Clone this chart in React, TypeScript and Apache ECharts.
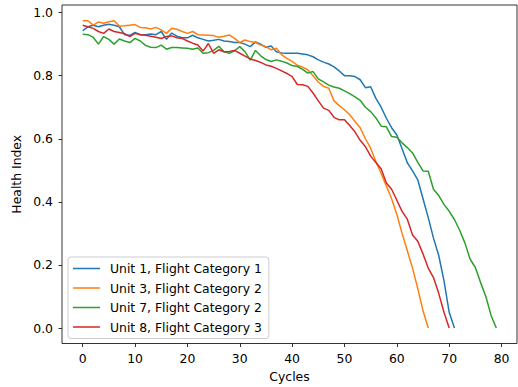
import React, { useEffect, useRef } from "react";
import * as echarts from "echarts";

const seriesNames = [
  "Unit 1, Flight Category 1",
  "Unit 3, Flight Category 2",
  "Unit 7, Flight Category 2",
  "Unit 8, Flight Category 3",
];

const unit1 = [
  0.943, 0.955, 0.96, 0.955, 0.96, 0.963, 0.96, 0.955, 0.93, 0.928,
  0.937, 0.93, 0.93, 0.932, 0.93, 0.94, 0.915, 0.935, 0.925, 0.92,
  0.92, 0.928, 0.92, 0.915, 0.91, 0.912, 0.915, 0.91, 0.908, 0.905,
  0.905, 0.9, 0.892, 0.907, 0.9, 0.89, 0.894, 0.876, 0.872, 0.871,
  0.871, 0.871, 0.869, 0.866, 0.86, 0.85, 0.843, 0.837, 0.828, 0.815,
  0.8, 0.8, 0.797, 0.787, 0.762, 0.765, 0.728, 0.7, 0.665, 0.635,
  0.612, 0.568, 0.524, 0.498, 0.47, 0.41, 0.35, 0.285, 0.23, 0.15,
  0.05, 0.0,
];

const unit3 = [
  0.974, 0.974, 0.96, 0.97, 0.966, 0.971, 0.974, 0.957, 0.958, 0.96,
  0.962, 0.953, 0.952, 0.948, 0.953, 0.945, 0.934, 0.95, 0.947, 0.94,
  0.934, 0.94, 0.93, 0.929, 0.928, 0.927, 0.922, 0.925, 0.929, 0.918,
  0.905, 0.913, 0.908, 0.905, 0.897, 0.892, 0.882, 0.887, 0.866, 0.855,
  0.845, 0.833, 0.827, 0.818, 0.8, 0.78, 0.766, 0.76, 0.72, 0.705,
  0.692, 0.676, 0.655, 0.635, 0.6, 0.57, 0.528, 0.49, 0.45, 0.41,
  0.36, 0.3, 0.245, 0.19, 0.125, 0.055, 0.0,
];

const unit7 = [
  0.931, 0.93, 0.922, 0.9, 0.924, 0.915, 0.9, 0.916, 0.91, 0.905,
  0.918, 0.91, 0.896, 0.89, 0.889, 0.897, 0.884, 0.889, 0.889, 0.888,
  0.887, 0.884, 0.888, 0.871, 0.873, 0.88, 0.893, 0.876, 0.871, 0.879,
  0.892, 0.876, 0.849, 0.88, 0.863, 0.851, 0.845, 0.85, 0.846, 0.84,
  0.832, 0.829, 0.82, 0.808, 0.813, 0.79, 0.78, 0.77, 0.764, 0.76,
  0.752, 0.743, 0.733, 0.722, 0.7, 0.686, 0.666, 0.64, 0.638, 0.607,
  0.605, 0.587, 0.572, 0.555, 0.525, 0.498, 0.497, 0.44, 0.42, 0.392,
  0.37, 0.344, 0.31, 0.27, 0.218, 0.192, 0.144, 0.1, 0.04, 0.0,
];

const unit8 = [
  0.96, 0.955, 0.95, 0.94, 0.934, 0.948, 0.94, 0.937, 0.933, 0.924,
  0.934, 0.93, 0.928, 0.925, 0.922, 0.918, 0.924, 0.926, 0.92, 0.918,
  0.91, 0.903, 0.897, 0.878, 0.902, 0.871, 0.882, 0.876, 0.877, 0.88,
  0.871, 0.862, 0.853, 0.848, 0.842, 0.834, 0.83, 0.823, 0.815, 0.807,
  0.797, 0.772, 0.771, 0.766, 0.745, 0.72, 0.697, 0.69, 0.668, 0.66,
  0.66, 0.642, 0.622, 0.595, 0.575, 0.545, 0.525, 0.505, 0.46, 0.44,
  0.405, 0.37, 0.345, 0.295, 0.275, 0.235, 0.19, 0.16, 0.11, 0.05,
  0.0,
];

const xTicks = [0, 10, 20, 30, 40, 50, 60, 70, 80];
const yTicks = [0.0, 0.2, 0.4, 0.6, 0.8, 1.0];
const colors = ["#1f77b4", "#ff7f0e", "#2ca02c", "#d62728"];

const FONT = "DejaVu Sans";
const FS = 12.4;

export default function App() {
  const ref = useRef<HTMLDivElement>(null);
  useEffect(() => {
    if (!ref.current) return;
    const chart = echarts.init(ref.current, undefined, { renderer: "svg" });
    const all = [unit1, unit3, unit7, unit8];
    chart.setOption({
      animation: false,
      backgroundColor: "#ffffff",
      textStyle: { fontFamily: FONT },
      grid: {
        left: 62,
        right: 1,
        top: 5,
        bottom: 43,
        show: true,
        borderColor: "#000000",
        borderWidth: 0.8,
        backgroundColor: "transparent",
      },
      xAxis: {
        type: "value",
        min: -3.95,
        max: 82.95,
        name: "Cycles",
        nameLocation: "middle",
        nameGap: 26.5,
        nameTextStyle: { fontSize: FS, color: "#000", fontFamily: FONT },
        axisLine: { show: false, onZero: false },
        splitLine: { show: false },
        axisTick: {
          show: true,
          length: 3.5,
          customValues: xTicks,
          lineStyle: { color: "#000", width: 0.8 },
        },
        axisLabel: {
          customValues: xTicks,
          fontSize: FS,
          color: "#000",
          margin: 9,
          fontFamily: FONT,
        },
      },
      yAxis: {
        type: "value",
        min: -0.049,
        max: 1.024,
        name: "Health Index",
        nameLocation: "middle",
        nameGap: 34,
        nameTextStyle: { fontSize: FS, color: "#000", fontFamily: FONT },
        axisLine: { show: false, onZero: false },
        splitLine: { show: false },
        axisTick: {
          show: true,
          length: 3.5,
          customValues: yTicks,
          lineStyle: { color: "#000", width: 0.8 },
        },
        axisLabel: {
          customValues: yTicks,
          fontSize: FS,
          color: "#000",
          margin: 9,
          fontFamily: FONT,
          formatter: (v: number) => v.toFixed(1),
        },
      },
      legend: {
        orient: "vertical",
        left: 68,
        top: 257,
        icon: "rect",
        itemWidth: 27,
        itemHeight: 1.5,
        itemGap: 4.5,
        padding: [4, 7, 4, 5],
        backgroundColor: "rgba(255,255,255,0.8)",
        borderColor: "#cccccc",
        borderWidth: 1,
        borderRadius: 3,
        textStyle: {
          fontSize: FS,
          color: "#000",
          fontFamily: FONT,
          padding: [0, 0, 0, 5],
          lineHeight: 15,
        },
        data: seriesNames,
      },
      series: all.map((arr, k) => ({
        name: seriesNames[k],
        type: "line",
        symbol: "none",
        showSymbol: false,
        color: colors[k],
        lineStyle: { width: 1.5, color: colors[k] },
        data: arr.map((v, i) => [i, v]),
      })),
    });
    return () => chart.dispose();
  }, []);
  return (
    <div
      ref={ref}
      style={{ position: "fixed", left: 0, top: 0, width: 518, height: 387 }}
    />
  );
}
